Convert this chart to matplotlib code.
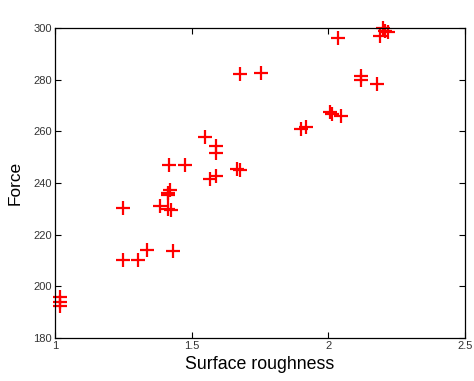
import matplotlib
matplotlib.use("Agg")
import matplotlib.pyplot as plt

# Surface roughness vs. force measurements
roughness = [1.018, 1.018, 1.018, 1.25, 1.25, 1.305, 1.338, 1.43, 1.384, 1.415,
             1.425, 1.42, 1.415, 1.415, 1.417, 1.476, 1.549, 1.588, 1.588, 1.567,
             1.588, 1.667, 1.677, 1.677, 1.755, 2.037, 2.201, 2.207, 2.189, 2.22,
             2.12, 2.12, 2.177, 2.006, 2.012, 2.045, 1.899, 1.918]
force = [196, 194, 192.5, 230.3, 210, 210, 214, 213.5, 231, 230,
         229.5, 237.4, 236, 235.3, 247, 247, 257.8, 254.4, 251.6, 241.7,
         242.6, 245.5, 245, 282, 282.6, 296, 300, 298.7, 296.8, 298.3,
         281.3, 280, 278.5, 267.3, 266.8, 265.8, 260.9, 261.5]

x_ticks = [1, 1.5, 2, 2.5]
x_tick_labels = ["1", "1.5", "2", "2.5"]
y_ticks = [180, 200, 220, 240, 260, 280, 300]

plt.rcParams["font.family"] = ["Liberation Sans", "DejaVu Sans"]

fig = plt.figure(figsize=(4.74, 3.81), dpi=100)
ax = fig.add_axes([0.116, 0.113, 0.865, 0.8135])

ax.plot(roughness, force, linestyle="none", marker="+", color="red",
        markersize=9.5, markeredgewidth=1.6, clip_on=False)

ax.set_xlim(1, 2.5)
ax.set_ylim(180, 300)
ax.set_xticks(x_ticks)
ax.set_xticklabels(x_tick_labels)
ax.set_yticks(y_ticks)
ax.tick_params(direction="in", length=4, width=0.8, labelsize=8,
               labelcolor="#333333", top=True, right=True, pad=2)
for s in ax.spines.values():
    s.set_linewidth(0.9)

ax.set_xlabel("Surface roughness", fontsize=12.8, labelpad=4)
ax.set_ylabel("Force", fontsize=12.4, labelpad=8)

fig.savefig("out.png", dpi=100)
